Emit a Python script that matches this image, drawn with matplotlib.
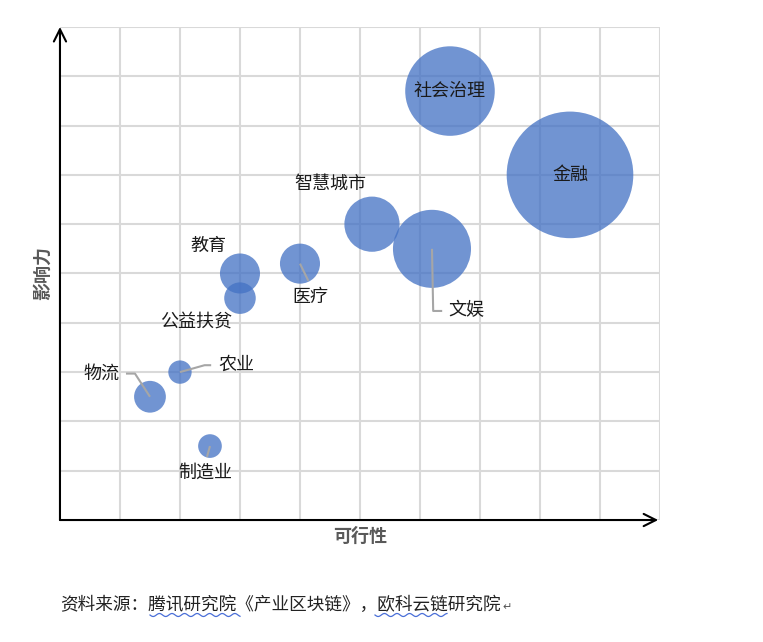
import numpy as np
import matplotlib
matplotlib.use("Agg")
from matplotlib import pyplot as plt

plt.rcParams['font.family'] = ['Noto Sans CJK SC', 'DejaVu Sans']

# data
names = ["社会治理", "金融", "智慧城市", "文娱", "医疗", "教育", "公益扶贫", "农业", "物流", "制造业"]
feasibility = [6.5, 8.5, 5.2, 6.2, 4.0, 3.0, 3.0, 2.0, 1.5, 2.5]
influence = [8.7, 7.0, 6.0, 5.5, 5.2, 5.0, 4.5, 3.0, 2.5, 1.5]
bubble_size = [5.0, 10.0, 1.9, 3.8, 1.0, 1.0, 0.62, 0.34, 0.63, 0.35]

# label placement (data coords) and leader line bend points
label_pos = {
    "社会治理": None, "金融": None,
    "智慧城市": (4.51, 6.81), "教育": (2.48, 5.56), "公益扶贫": (2.27, 4.01),
    "医疗": (4.18, 4.53), "文娱": (6.78, 4.26), "农业": (2.94, 3.14),
    "物流": (0.69, 2.96), "制造业": (2.43, 0.96),
}
leaders = {
    "医疗": [(4.14, 4.85)],
    "文娱": [(6.22, 4.24), (6.37, 4.24)],
    "农业": [(2.41, 3.14), (2.52, 3.14)],
    "物流": [(1.25, 2.97), (1.10, 2.97)],
    "制造业": [(2.45, 1.28)],
}

fig = plt.figure(figsize=(7.63, 6.42), dpi=100)
ax = fig.add_axes([0.0786, 0.19, 0.7864, 0.768])

ax.set_xlim(0, 10)
ax.set_ylim(0, 10)
ax.set_xticks(np.arange(0, 11))
ax.set_yticks(np.arange(0, 11))
ax.tick_params(length=0, labelbottom=False, labelleft=False)
ax.grid(True, color='#d9d9d9', lw=1.5)
ax.set_axisbelow(True)
for s in ax.spines.values():
    s.set_visible(False)

# axis arrows
arrow = dict(arrowstyle='->', color='black', lw=1.5, mutation_scale=22, shrinkA=0, shrinkB=0)
ax.annotate('', xy=(0, 1.0), xytext=(0, 0), xycoords='axes fraction', arrowprops=arrow, annotation_clip=False)
ax.annotate('', xy=(0.997, 0), xytext=(0, 0), xycoords='axes fraction', arrowprops=arrow, annotation_clip=False)

k = 831.0
ax.scatter(feasibility, influence, s=[v * k for v in bubble_size], color='#4472C4', alpha=0.76,
           edgecolors='none', zorder=3, clip_on=False)

for name, x, y in zip(names, feasibility, influence):
    pos = label_pos[name]
    if pos is None:
        ax.text(x, y, name, ha='center', va='center', fontsize=13, color='#1a1a1a', zorder=5)
        continue
    if name in leaders:
        pts = [(x, y)] + leaders[name]
        ax.plot([p[0] for p in pts], [p[1] for p in pts], color='#a6a6a6', lw=1.5, zorder=4,
                solid_capstyle='butt')
    ax.text(pos[0], pos[1], name, ha='center', va='center', fontsize=13, color='#1a1a1a', zorder=5)

ax.text(0.5, -0.033, "可行性", transform=ax.transAxes, ha='center', va='center',
        fontsize=13, fontweight='bold', color='#595959')
ax.text(-0.03, 0.5, "影响力", transform=ax.transAxes, ha='center', va='center', rotation=90,
        fontsize=13, fontweight='bold', color='#595959')

fig.text(60 / 763, 1 - 605 / 642, "资料来源：腾讯研究院《产业区块链》，欧科云链研究院",
         ha='left', va='center', fontsize=12.7, color='#222222')
fig.text(502 / 763, 1 - 607 / 642, "↵", ha='left', va='center', fontsize=8, color='#555555',
         family=['DejaVu Sans'])

# spell-check style wavy underlines
for x0, x1 in [(150, 240), (375, 447)]:
    xs = np.linspace(x0, x1, 120)
    ys = 615 + 1.5 * np.sin((xs - x0) / 2.0)
    fig.add_artist(plt.Line2D(xs / 763, 1 - ys / 642, color='#4a6fd8', lw=0.9))

fig.savefig("out.png", dpi=100)
